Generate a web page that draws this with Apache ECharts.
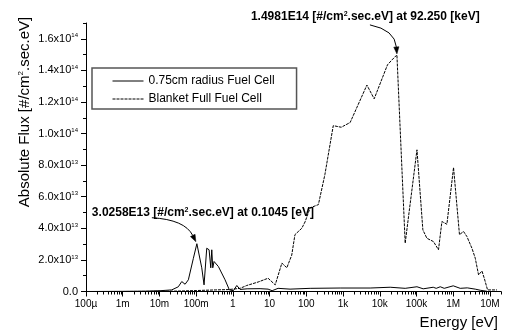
<!DOCTYPE html>
<html>
<head>
<meta charset="utf-8">
<script src="https://cdn.jsdelivr.net/npm/echarts@6/dist/echarts.min.js"></script>
<style>
html,body{margin:0;padding:0;background:#fff;}
#chart{width:506px;height:336px;}
</style>
</head>
<body>
<div id="chart"></div>
<script>
// ---- data (energy in eV, flux in units of 1e13 #/cm2.sec.eV) ----
const FLUX_UNIT = 1e13;
const seriesNames = ['0.75cm radius Fuel Cell', 'Blanket Full Fuel Cell'];
const energySolid = [1e-4, 1e-3, 4.1e-3, 0.0104, 0.0216, 0.0327, 0.0405, 0.0499, 0.0613, 0.0839,
  0.1045, 0.142, 0.164, 0.194, 0.225, 0.25, 0.266, 0.283, 0.307, 0.403,
  0.612, 0.803, 1.03, 1.28, 1.57, 2.44, 5.5, 9.1, 11.7, 17,
  36, 127, 834, 5470, 19200, 49200, 1.03e5, 1.52e5, 2.85e5, 3.44e5,
  4.43e5, 5.69e5, 1.0e6, 1.55e6, 2.41e6, 3.97e6, 5.44e6, 8.44e6];
const fluxSolid = [0, 0.01, 0.02, 0.05, 0.1, 0.3, 0.63, 0.46, 0.74, 2.1,
  3.0258, 1.5, 0.42, 2.74, 2.64, 1.5, 2.64, 1.5, 1.9, 1.58,
  0.74, 0.1, 0.05, 0.38, 0.13, 0.17, 0.18, 0.15, 0.05, 0.2,
  0.15, 0.2, 0.22, 0.22, 0.27, 0.2, 0.3, 0.17, 0.27, 0.2,
  0.3, 0.2, 0.36, 0.2, 0.23, 0.15, 0.08, 0.01];
const energyBlanket = [1e-4, 1e-3, 0.01, 0.036, 0.1, 0.33, 0.74, 1.0, 1.57, 2.38,
  4.86, 9.1, 14.2, 21.6, 29.4, 40, 49, 75, 92, 127,
  213, 320, 541, 893, 1560, 4460, 7040, 16200, 21400, 29300,
  49200, 1.03e5, 1.49e5, 1.92e5, 2.9e5, 3.97e5, 4.92e5, 6.73e5, 1.02e6, 1.48e6,
  1.91e6, 2.36e6, 3.23e6, 3.98e6, 4.9e6, 6.06e6, 7.0e6, 8.61e6, 1.55e7];
const fluxBlanket = [0, 0, 0.01, 0.03, 0.06, 0.1, 0.12, 0.15, 0.2, 0.38,
  0.6, 0.84, 0.42, 1.8, 1.5, 2.3, 3.6, 4.0, 4.4, 5.3,
  5.5, 7.4, 10.5, 10.4, 10.7, 13.07, 12.2, 14.35, 14.66, 14.981,
  3.06, 8.97, 3.9, 3.37, 3.16, 2.64, 4.43, 4.26, 7.85, 3.6,
  3.8, 3.48, 2.74, 2.11, 1.05, 1.3, 0.84, 0.1, 0.1];
const xTickValues = [1e-4, 1e-3, 1e-2, 1e-1, 1, 10, 100, 1e3, 1e4, 1e5, 1e6, 1e7];
const xTickLabels = ['100\u00b5', '1m', '10m', '100m', '1', '10', '100', '1k', '10k', '100k', '1M', '10M'];
const yTickValues = [0, 2e13, 4e13, 6e13, 8e13, 1e14, 1.2e14, 1.4e14, 1.6e14];
const yTickMantissa = ['0.0', '2.0', '4.0', '6.0', '8.0', '1.0', '1.2', '1.4', '1.6'];
const yTickExponent = ['', '13', '13', '13', '13', '14', '14', '14', '14'];
const peakBlanketText = ['1.4981E14 [#/cm', '2', '.sec.eV] at 92.250 [keV]'];
const peakSolidText = ['3.0258E13 [#/cm', '2', '.sec.eV] at 0.1045 [eV]'];

// minor tick positions (built from the decades)
const xMinorTicks = [];
for (let d = -4; d <= 7; d++) for (let k = 2; k <= 9; k++) {
  const v = k * Math.pow(10, d);
  if (v <= 2e7) xMinorTicks.push(v);
}
const yMinorTicks = [];
for (let k = 1; k <= 17; k += 2) yMinorTicks.push(k * 1e13);

const FONT = 'Liberation Sans, Arial, sans-serif';
const chart = echarts.init(document.getElementById('chart'), null, {renderer: 'canvas'});

const solidData = energySolid.map((e, i) => [e, fluxSolid[i] * FLUX_UNIT]);
const blanketData = energyBlanket.map((e, i) => [e, fluxBlanket[i] * FLUX_UNIT]);

const option = {
  animation: false,
  backgroundColor: '#fff',
  grid: {left: 86, right: 5, top: 23, bottom: 44.5, containLabel: false},
  xAxis: [{
    type: 'log', logBase: 10, min: 1e-4, max: 2e7,
    name: 'Energy [eV]', nameLocation: 'end', nameGap: -3,
    nameTextStyle: {fontFamily: FONT, fontSize: 15, color: '#000', align: 'right', verticalAlign: 'top', padding: [24, 0, 0, 0]},
    axisLine: {show: true, lineStyle: {color: '#000', width: 1}},
    axisTick: {show: true, length: 5, customValues: xTickValues, lineStyle: {color: '#000'}},
    axisLabel: {show: true, customValues: xTickValues, margin: 8, fontFamily: FONT, fontSize: 10, color: '#000',
      formatter: v => { const i = Math.round(Math.log10(v)) + 4; return xTickLabels[i] || ''; }},
    splitLine: {show: false}, minorTick: {show: false}
  }, {
    type: 'log', logBase: 10, min: 1e-4, max: 2e7, position: 'bottom', gridIndex: 0,
    axisLine: {show: false},
    axisTick: {show: true, length: 3, customValues: xMinorTicks, lineStyle: {color: '#000'}},
    axisLabel: {show: false}, splitLine: {show: false}
  }],
  yAxis: [{
    type: 'value', min: 0, max: 1.7e14,
    axisLine: {show: true, lineStyle: {color: '#000', width: 1}},
    axisTick: {show: true, length: 5, customValues: yTickValues, lineStyle: {color: '#000'}},
    axisLabel: {show: true, customValues: yTickValues, margin: 8, color: '#000',
      formatter: v => {
        let i = -1;
        yTickValues.forEach((t, j) => { if (Math.abs(t - v) < 1e11) i = j; });
        if (i < 0) return '';
        return yTickExponent[i] ? '{m|' + yTickMantissa[i] + 'x10}{s|' + yTickExponent[i] + '}' : '{m|' + yTickMantissa[i] + '}';
      },
      rich: {
        m: {fontFamily: FONT, fontSize: 11, color: '#000', lineHeight: 12},
        s: {fontFamily: FONT, fontSize: 6, color: '#000', verticalAlign: 'top', lineHeight: 7}
      }},
    splitLine: {show: false}
  }, {
    type: 'value', min: 0, max: 1.7e14, position: 'left', offset: 0,
    axisLine: {show: false},
    axisTick: {show: true, length: 3, customValues: yMinorTicks, lineStyle: {color: '#000'}},
    axisLabel: {show: false}, splitLine: {show: false}
  }],
  legend: {
    left: 92, top: 68, orient: 'vertical',
    padding: [7, 22, 4, 20], itemGap: 6, itemWidth: 31, itemHeight: 12,
    borderColor: '#555', borderWidth: 1.5, backgroundColor: '#fff',
    itemStyle: {opacity: 0},
    lineStyle: {width: 1},
    textStyle: {fontFamily: FONT, fontSize: 12, color: '#000'},
    data: seriesNames
  },
  series: [{
    name: seriesNames[0], type: 'line', xAxisIndex: 0, yAxisIndex: 0,
    data: solidData, symbol: 'none', smooth: false,
    lineStyle: {color: '#000', width: 1, type: 'solid'}, itemStyle: {color: '#000'}
  }, {
    name: seriesNames[1], type: 'line', xAxisIndex: 0, yAxisIndex: 0,
    data: blanketData, symbol: 'none', smooth: false,
    lineStyle: {color: '#000', width: 1, type: [3, 1]}, itemStyle: {color: '#000'}
  }]
};
chart.setOption(option);

// ---- annotations anchored at the peaks ----
function argmax(a) { let b = 0; a.forEach((v, i) => { if (v > a[b]) b = i; }); return b; }
const iB = argmax(fluxBlanket), iS = argmax(fluxSolid);
const pB = chart.convertToPixel({xAxisIndex: 0, yAxisIndex: 0}, blanketData[iB]);
const pS = chart.convertToPixel({xAxisIndex: 0, yAxisIndex: 0}, solidData[iS]);

function annoText(x, y, parts) {
  return {
    type: 'text', x: x, y: y, z: 100,
    style: {
      text: '{a|' + parts[0] + '}{s|' + parts[1] + '}{a|' + parts[2] + '}',
      verticalAlign: 'middle', align: 'left',
      rich: {
        a: {fontFamily: FONT, fontSize: 12, fontWeight: 'bold', fill: '#000', lineHeight: 13},
        s: {fontFamily: FONT, fontSize: 7, fontWeight: 'bold', fill: '#000', verticalAlign: 'top', lineHeight: 8}
      }
    }
  };
}
function arrow(sx, sy, cx, cy, ex, ey) {
  const dx = ex - cx, dy = ey - cy, L = Math.sqrt(dx * dx + dy * dy);
  const ux = dx / L, uy = dy / L, len = 7, w = 2.6;
  const bx = ex - ux * len, by = ey - uy * len;
  return [{
    type: 'bezierCurve', z: 100,
    shape: {x1: sx, y1: sy, cpx1: cx, cpy1: cy, x2: bx, y2: by},
    style: {stroke: '#000', lineWidth: 1, fill: null}
  }, {
    type: 'polygon', z: 100,
    shape: {points: [[ex, ey], [bx - uy * w, by + ux * w], [bx + uy * w, by - ux * w]]},
    style: {fill: '#000', stroke: '#000', lineWidth: 0.5}
  }];
}
const graphics = [];
graphics.push(annoText(pB[0] - 146, pB[1] - 38, peakBlanketText));
graphics.push(...arrow(pB[0] - 27, pB[1] - 30, pB[0] - 2, pB[1] - 25, pB[0], pB[1] - 1));
graphics.push(annoText(pS[0] - 105, pS[1] - 31, peakSolidText));
graphics.push(...arrow(pS[0] - 45, pS[1] - 26, pS[0] - 12, pS[1] - 24, pS[0] - 1, pS[1] - 2));
graphics.push({
  type: 'text', x: 25, y: 112, rotation: Math.PI / 2, z: 100,
  style: {
    text: '{a|Absolute Flux [#/cm}{s|2}{a|.sec.eV]}',
    align: 'center', verticalAlign: 'middle',
    rich: {
      a: {fontFamily: FONT, fontSize: 15, fill: '#000', lineHeight: 17},
      s: {fontFamily: FONT, fontSize: 8, fill: '#000', verticalAlign: 'top', lineHeight: 9}
    }
  }
});
chart.setOption({graphic: graphics});
</script>
</body>
</html>
